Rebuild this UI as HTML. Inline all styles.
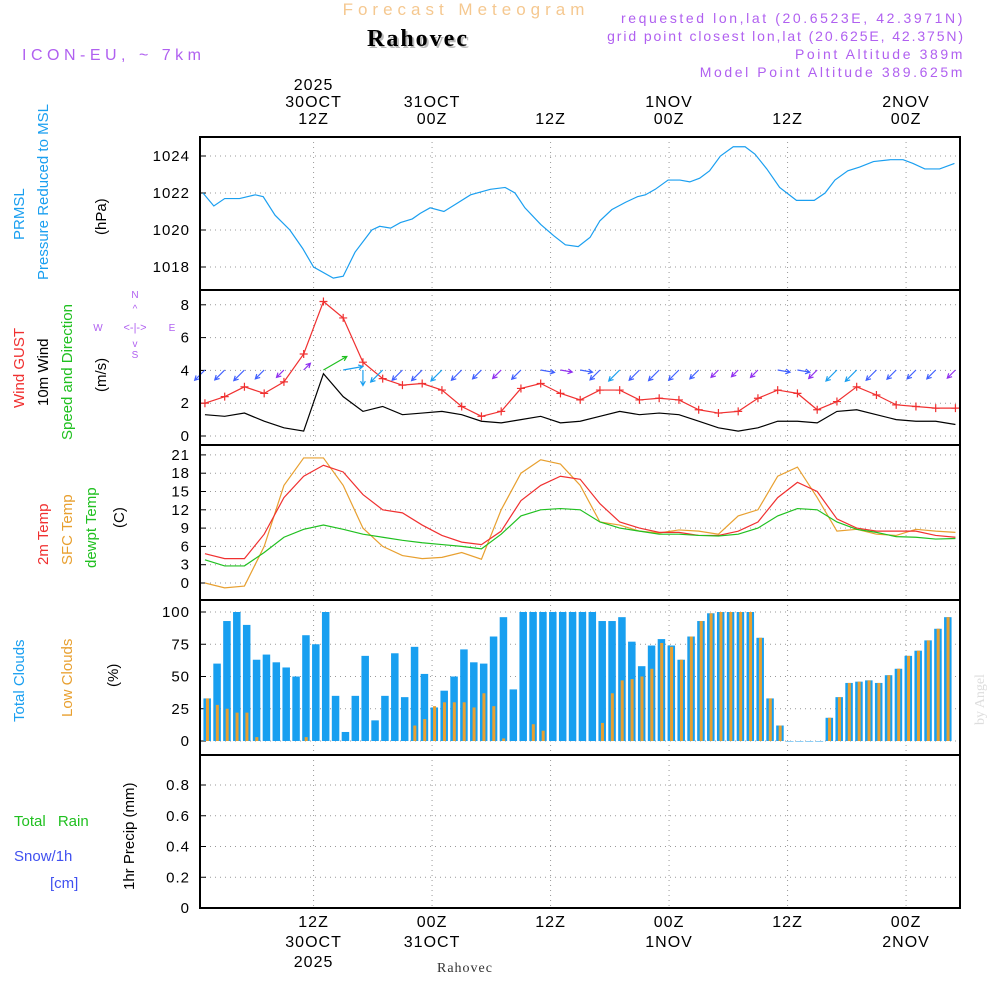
<!DOCTYPE html>
<html><head><meta charset="utf-8"><style>
html,body{margin:0;padding:0;background:#fff;}
svg{display:block;font-family:"Liberation Sans",sans-serif;}
</style></head><body>
<svg id="chart" width="1000" height="1000" viewBox="0 0 1000 1000" xmlns="http://www.w3.org/2000/svg">
<g id="g"></g>
</svg>
<script>
// ---- data (hours since 30OCT 00Z) ----
const pressHours=[0.8,1.9,3.0,4.5,6.1,6.9,8.1,9.6,10.9,12.0,14.0,15.0,16.2,17.9,18.7,19.8,20.8,22.0,22.8,23.8,25.2,26.4,27.9,29.9,31.4,32.4,33.4,35.0,36.3,37.5,38.8,40.0,41.0,42.2,43.6,44.8,45.6,46.6,47.9,49.1,50.1,51.1,52.1,53.2,54.5,55.7,56.7,57.9,59.2,60.9,62.7,63.8,64.8,66.1,67.3,68.7,70.4,71.7,72.7,73.9,75.4,76.9];
const pressVals=[1022.0,1021.3,1021.7,1021.7,1021.9,1021.8,1020.8,1020.0,1019.0,1018.0,1017.4,1017.5,1018.8,1020.0,1020.2,1020.1,1020.4,1020.6,1020.9,1021.2,1021.0,1021.4,1021.9,1022.2,1022.3,1022.0,1021.2,1020.3,1019.7,1019.2,1019.1,1019.6,1020.5,1021.1,1021.5,1021.8,1021.9,1022.2,1022.7,1022.7,1022.6,1022.8,1023.2,1024.0,1024.5,1024.5,1024.1,1023.3,1022.3,1021.6,1021.6,1022.0,1022.7,1023.2,1023.4,1023.7,1023.8,1023.8,1023.6,1023.3,1023.3,1023.6];
const hours2=[1,3,5,7,9,11,13,15,17,19,21,23,25,27,29,31,33,35,37,39,41,43,45,47,49,51,53,55,57,59,61,63,65,67,69,71,73,75,77];
const gustVals=[2.0,2.4,3.0,2.6,3.3,5.0,8.2,7.2,4.5,3.5,3.1,3.2,2.8,1.8,1.2,1.5,2.9,3.2,2.6,2.2,2.8,2.8,2.2,2.3,2.2,1.6,1.4,1.5,2.3,2.8,2.6,1.6,2.1,3.0,2.5,1.9,1.8,1.7,1.7];
const windVals=[1.3,1.2,1.4,0.9,0.5,0.3,3.8,2.4,1.5,1.8,1.3,1.4,1.5,1.3,0.9,0.8,1.0,1.2,0.8,0.9,1.2,1.5,1.3,1.4,1.3,0.9,0.5,0.3,0.5,0.9,0.9,0.8,1.5,1.6,1.3,1.0,0.9,0.9,0.7];
const windDirs=[225,225,225,225,225,45,60,80,180,225,225,225,225,225,225,225,225,100,100,100,225,225,225,225,225,225,225,225,225,100,100,225,225,225,225,225,225,225,225];
const t2mVals=[4.8,4.0,4.0,8,14,17.5,19.3,18.2,14.5,12,11.5,9.5,7.8,6.7,6.3,8.5,13.5,16,17.5,17.0,13,10,9,8.3,8.3,7.8,7.8,8.5,10,14,16.5,15,10.5,9,8.5,8.5,8.5,7.8,7.5];
const sfcVals=[0,-0.8,-0.5,6,16,20.5,20.5,16,9,6,4.5,4.0,4.2,5,3.9,12,18,20.2,19.5,16,10,9.5,8.5,8.2,8.7,8.5,8.0,11,12,17.5,19,14,8.5,8.8,8,7.8,8.8,8.5,8.3];
const dewVals=[3.8,2.8,2.8,5,7.5,8.8,9.5,8.8,8,7.5,7,6.6,6.3,6,5.6,8,11,12,12.2,12,10,9,8.5,8.0,8.0,7.8,7.7,8,9,11,12.2,12,10,8.8,8.3,7.6,7.5,7.2,7.3];
const totalCloud=[33,60,93,100,90,63,67,61,57,50,82,75,100,35,7,35,66,16,35,68,34,73,52,26,39,50,71,61,60,81,96,40,100,100,100,100,100,100,100,100,93,93,96,77,58,74,79,74,63,81,93,99,100,100,100,100,80,33,12,0,0,0,0,18,34,45,46,47,45,51,56,66,70,78,87,96];
const lowCloud=[33,28,25,22,22,3,0,0,0,0,3,0,0,0,0,0,0,0,0,0,0,12,17,27,30,30,30,26,37,27,2,0,0,13,8,0,0,0,0,0,14,37,47,48,50,56,76,73,63,81,93,99,100,100,100,100,80,33,12,0,0,0,0,18,34,45,46,47,45,51,56,66,70,78,87,96];
const precipVals=new Array(77).fill(0);
const pressTicks=[1018,1020,1022,1024];
const windTicks=[0,2,4,6,8];
const tempTicks=[0,3,6,9,12,15,18,21];
const cloudTicks=[0,25,50,75,100];
const precipTicks=[0,0.2,0.4,0.6,0.8];
const timeTickHours=[12,24,36,48,60,72];
const topLabels=[["2025","30OCT","12Z"],["","31OCT","00Z"],["","","12Z"],["","1NOV","00Z"],["","","12Z"],["","2NOV","00Z"]];
const botLabels=[["12Z","30OCT","2025"],["00Z","31OCT",""],["12Z","",""],["00Z","1NOV",""],["12Z","",""],["00Z","2NOV",""]];

// ---- scales ----
const X0=200,X1=960;
const xOf=h=>X0+(h-0.5)*9.875;
const yP=v=>267-(v-1018)*18.5;
const yW=v=>436-v*16.4;
const yT=v=>583-v*6.1;
const yC=v=>741-v*1.29;
const yR=v=>908-v*153.75;
const panels=[[137,290],[290,445],[445,600],[600,755],[755,908]];

const NS="http://www.w3.org/2000/svg";
const G=document.getElementById('g');
function mk(tag,attrs){const e=document.createElementNS(NS,tag);for(const k in attrs)e.setAttribute(k,attrs[k]);G.appendChild(e);return e;}
function txt(s,x,y,opt){const e=mk('text',Object.assign({x:x,y:y,'font-size':15},opt||{}));e.textContent=s;return e;}

panels.forEach((p,i)=>{
  timeTickHours.forEach(h=>{
    const l=mk('line',{x1:xOf(h),x2:xOf(h),y1:p[0],y2:p[1],stroke:'#999','stroke-dasharray':'1,4'});
    
    
  });
});
function yAxis(ticks,yf,p,fmt){
  ticks.forEach(t=>{
    const y=yf(t);
    const l=mk('line',{x1:X0,x2:X1,y1:y,y2:y,stroke:'#999','stroke-dasharray':'1,4'});
    
    
    const tk=mk('line',{x1:X0,x2:X0+6,y1:y,y2:y,stroke:'#000'});
    
    
    const lb=txt(fmt?fmt(t):String(t),190,y+5,{'text-anchor':'end','letter-spacing':1});
    
    
  });
}
yAxis(pressTicks,yP,panels[0]);
yAxis(windTicks,yW,panels[1]);
yAxis(tempTicks,yT,panels[2]);
yAxis(cloudTicks,yC,panels[3]);
yAxis(precipTicks,yR,panels[4],t=>t===0?'0':t.toFixed(1));

totalCloud.forEach((v,i)=>{
  const h=i+1,x=xOf(h)+2;
  const b=mk('rect',{x:x-3.5,y:yC(v),width:7.5,height:Math.max(0.5,yC(0)-yC(v)),fill:'#189ff0'});
  
  
});
lowCloud.forEach((v,i)=>{
  const h=i+1,x=xOf(h)+2;
  if(v<=0)return;
  const b=mk('rect',{x:x-1,y:yC(v),width:3,height:yC(0)-yC(v),fill:'#e8a030'});
  
  
});

const pr=mk('polyline',{points:precipVals.map((v,i)=>xOf(i+1)+','+yR(v)).join(' '),fill:'none',stroke:'#000','stroke-dasharray':'4,2','stroke-width':1.5});



function line(hs,vs,yf,color,name){
  const e=mk('polyline',{points:vs.map((v,i)=>xOf(hs[i])+','+yf(v)).join(' '),fill:'none',stroke:color,'stroke-width':1.2});
  
  
}
line(pressHours,pressVals,yP,'#1a9ff0','pressure-line');
line(hours2,windVals,yW,'#000','wind-speed-line');
line(hours2,gustVals,yW,'#f03030','wind-gust-line');
gustVals.forEach((v,i)=>{
  const x=xOf(hours2[i]),y=yW(v);
  const m=mk('path',{d:`M${x-4},${y}H${x+4}M${x},${y-4}V${y+4}`,stroke:'#f03030','stroke-width':1.2});
  
  
});
windDirs.forEach((d,i)=>{
  const x=xOf(hours2[i]),y=370;
  const s=windVals[i];
  const L=8+s*5;
  const a=d*Math.PI/180,dx=Math.sin(a)*L,dy=-Math.cos(a)*L;
  const col=s>3?'#20c020':s>1.4?'#1a9ff0':s>0.8?'#4060ff':'#9030f0';
  const ex=x+dx,ey=y+dy;
  const ha=Math.atan2(dy,dx);
  const p1x=ex-5*Math.cos(ha-0.5),p1y=ey-5*Math.sin(ha-0.5),p2x=ex-5*Math.cos(ha+0.5),p2y=ey-5*Math.sin(ha+0.5);
  const ar=mk('path',{d:`M${x},${y}L${ex},${ey}M${p1x},${p1y}L${ex},${ey}L${p2x},${p2y}`,stroke:col,fill:'none','stroke-width':1.2});
  
  
});
line(hours2,sfcVals,yT,'#e8a030','sfc-temp-line');
line(hours2,t2mVals,yT,'#f03030','temp-2m-line');
line(hours2,dewVals,yT,'#20c020','dewpoint-line');

panels.forEach(p=>{
  const r=mk('rect',{x:X0,y:p[0],width:X1-X0,height:p[1]-p[0],fill:'none',stroke:'#000','stroke-width':2});
  
  
});
timeTickHours.forEach((h,i)=>{
  const x=xOf(h);
  topLabels[i].forEach((s,j)=>{ if(!s)return;
    const t=txt(s,x,90+j*17,{'text-anchor':'middle','font-size':16,'letter-spacing':1});
    
    
  });
  botLabels[i].forEach((s,j)=>{ if(!s)return;
    const t=txt(s,x,927+j*20,{'text-anchor':'middle','font-size':16,'letter-spacing':1});
    
    
  });
});
</script>
<svg style="position:absolute;left:0;top:0" width="1000" height="1000" xmlns="http://www.w3.org/2000/svg" font-family="Liberation Sans, sans-serif">
<text x="466" y="15" font-size="17" fill="#f5c890" text-anchor="middle" letter-spacing="5">Forecast Meteogram</text>
<text x="420" y="48" font-size="24" font-weight="bold" font-family="Liberation Serif, serif" fill="#bbb" text-anchor="middle" letter-spacing="2">Rahovec</text>
<text x="418" y="46" font-size="24" font-weight="bold" font-family="Liberation Serif, serif" fill="#000" text-anchor="middle" letter-spacing="2">Rahovec</text>
<text x="22" y="60" font-size="16" fill="#b060f0" letter-spacing="4.5">ICON-EU, ~ 7km</text>
<g fill="#b060f0" font-size="14" text-anchor="end" letter-spacing="2.6">
<text x="965" y="23">requested lon,lat (20.6523E, 42.3971N)</text>
<text x="965" y="41" letter-spacing="1.9">grid point closest lon,lat (20.625E, 42.375N)</text>
<text x="965" y="59">Point Altitude 389m</text>
<text x="965" y="77">Model Point Altitude 389.625m</text>
</g>
<g font-size="15">
<text transform="translate(24,240) rotate(-90)" fill="#1a9ff0">PRMSL</text>
<text transform="translate(48,280) rotate(-90)" fill="#1a9ff0">Pressure Reduced to MSL</text>
<text transform="translate(106,235) rotate(-90)" fill="#000">(hPa)</text>
<text transform="translate(24,408) rotate(-90)" fill="#f03030">Wind GUST</text>
<text transform="translate(48,406) rotate(-90)" fill="#000">10m Wind</text>
<text transform="translate(72,440) rotate(-90)" fill="#20c020">Speed and Direction</text>
<text transform="translate(106,392) rotate(-90)" fill="#000">(m/s)</text>
<text transform="translate(48,565) rotate(-90)" fill="#f03030">2m Temp</text>
<text transform="translate(72,565) rotate(-90)" fill="#e8a030">SFC Temp</text>
<text transform="translate(96,568) rotate(-90)" fill="#20c020">dewpt Temp</text>
<text transform="translate(124,528) rotate(-90)" fill="#000">(C)</text>
<text transform="translate(24,722) rotate(-90)" fill="#1a9ff0">Total Clouds</text>
<text transform="translate(72,717) rotate(-90)" fill="#e8a030">Low Clouds</text>
<text transform="translate(118,687) rotate(-90)" fill="#000">(%)</text>
<text transform="translate(134,890) rotate(-90)" fill="#000">1hr Precip (mm)</text>
<text x="14" y="826" fill="#20c020" word-spacing="8">Total Rain</text>
<text x="14" y="861" fill="#4050f0">Snow/1h</text>
<text x="50" y="888" fill="#4050f0">[cm]</text>
</g>
<g fill="#b060f0" font-size="10" text-anchor="middle">
<text x="135" y="298">N</text><text x="135" y="358">S</text><text x="98" y="331">W</text><text x="172" y="331">E</text>
<text x="135" y="331" font-size="11">&lt;-|-&gt;</text>
<text x="135" y="312">^</text><text x="135" y="347">v</text>
</g>
<text x="465" y="972" font-size="14" font-family="Liberation Serif, serif" fill="#333" text-anchor="middle" letter-spacing="1">Rahovec</text>
<text transform="translate(984,725) rotate(-90)" font-size="14" font-family="Liberation Serif, serif" fill="#ddd">by Angel</text>
</svg>
</body></html>
